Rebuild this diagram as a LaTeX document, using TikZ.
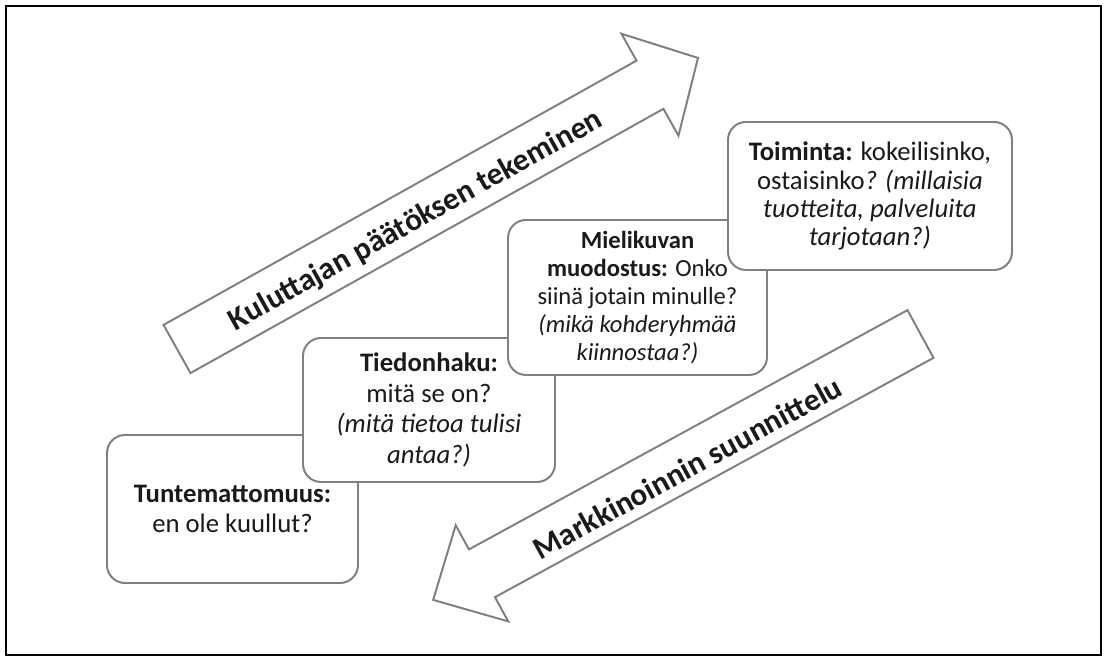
\documentclass[tikz,border=0pt]{standalone}
\usepackage{fontspec}
\setmainfont{Carlito}
\definecolor{edgegray}{HTML}{808080}
\definecolor{inkgray}{HTML}{1A1A1A}

\tikzset{
  stage/.style={draw=edgegray, line width=1.4pt, fill=white, rounded corners=0.45cm,
    align=center, text=inkgray, inner sep=0pt, font=\fontsize{19}{21.5}\selectfont},
  bigarrow/.style={draw=edgegray, line width=1.4pt, fill=white, line join=miter},
  arrowtext/.style={text=inkgray, font=\fontsize{22.3}{26}\selectfont\bfseries},
}

\begin{document}
\begin{tikzpicture}

\useasboundingbox (0,0) rectangle (27.725,16.525);
\draw[line width=1.6pt] (0.15,0.15) rectangle (27.525,16.375);

% ===== upward arrow: consumer side =====
\begin{scope}[shift={(4.425,7.8)}, rotate=29.19]
  \draw[bigarrow] (0,-0.69) -- (13.545,-0.69) -- (13.545,-1.46) -- (14.92,0)
    -- (13.545,1.46) -- (13.545,0.69) -- (0,0.69) -- cycle;
  \node[arrowtext, rotate=29.19] (decide) at (6.78,-0.12) {Kuluttajan päätöksen tekeminen};
\end{scope}

% ===== downward arrow: marketing side =====
\begin{scope}[shift={(23.0125,8.175)}, rotate=208.62]
  \draw[bigarrow] (0,-0.68) -- (12.49,-0.68) -- (12.49,-1.37) -- (13.88,0)
    -- (12.49,1.37) -- (12.49,0.68) -- (0,0.68) -- cycle;
  \node[arrowtext, rotate=28.62] (plan) at (6.72,0.14) {Markkinoinnin suunnittelu};
\end{scope}

% ===== stages, lowest first =====
\node[stage, minimum width=6.275cm, minimum height=3.7cm] (unknown) at (5.8125,3.8)
  {\textbf{Tuntemattomuus:}\\en ole kuullut?};
\node[stage, minimum width=6.3cm, minimum height=3.6cm, font=\fontsize{19}{22}\selectfont]
  (search) at (10.725,6.275)
  {\textbf{Tiedonhaku:}\\mitä se on?\\\textit{(mitä tietoa tulisi}\\\textit{antaa?)}};
\node[stage, minimum width=6.475cm, minimum height=3.875cm, font=\fontsize{17.5}{20}\selectfont]
  (image) at (15.9375,9.0875)
  {\textbf{Mielikuvan}\\\textbf{muodostus:} Onko\\siinä jotain minulle?\\\textit{(mikä kohderyhmää}\\\textit{kiinnostaa?)}};
\node[stage, minimum width=7.1cm, minimum height=3.7cm, font=\fontsize{19}{20}\selectfont]
  (action) at (21.75,11.625)
  {\textbf{Toiminta:} kokeilisinko,\\ostaisinko\textit{? (millaisia}\\\textit{tuotteita, palveluita}\\\textit{tarjotaan?)}};

\end{tikzpicture}
\end{document}
